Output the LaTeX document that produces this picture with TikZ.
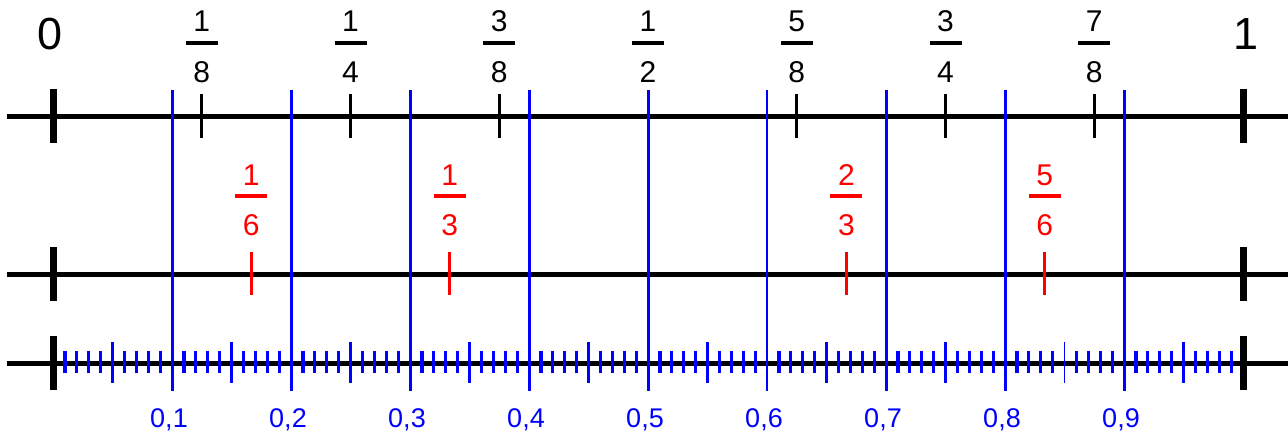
\documentclass[tikz,border=0pt]{standalone}
\usepackage{fontspec}
\setmainfont{Liberation Sans}
\definecolor{pblue}{RGB}{0,0,255}
\definecolor{pred}{RGB}{255,0,0}
\newcommand\fracmark[6]{%
  \node[fracnum,text=#4] (#6n) at (#1,#5) {#2};
  \draw[fracbar,draw=#4] (#1-16,#5+11) -- (#1+16,#5+11);
  \node[fracnum,text=#4] (#6d) at (#1,#5+50) {#3};
}
\begin{document}
\begin{tikzpicture}[x=1pt,y=-1pt,
  axis/.style={line width=5pt,black},
  endmark/.style={line width=7pt,black},
  eighthtick/.style={line width=2.8pt,black},
  redtick/.style={line width=3pt,pred},
  decline/.style={line width=3pt,pblue},
  thindec/.style={line width=1.1pt,pblue},
  smalltick/.style={line width=3.2pt,pblue},
  fracnum/.style={anchor=base,inner sep=0pt,font=\fontsize{30}{30}\selectfont},
  fracbar/.style={line width=3.5pt},
  endlabel/.style={anchor=base,inner sep=0pt,font=\fontsize{45}{45}\selectfont},
  declabel/.style={anchor=base,inner sep=0pt,text=pblue,font=\fontsize{27}{27}\selectfont}]
\useasboundingbox (0,0) rectangle (1288,436);
% horizontal axes
\coordinate (aL) at (7,116); \coordinate (aR) at (1288,116);
\coordinate (bL) at (7,274); \coordinate (bR) at (1288,274);
\coordinate (cL) at (7,363); \coordinate (cR) at (1288,363);
\draw[axis] (aL) -- (aR);
\draw[axis] (bL) -- (bR);
\draw[axis] (cL) -- (cR);
% end markers
\foreach \yy in {116,274,363} {
  \draw[endmark] (53.5,\yy-27) -- (53.5,\yy+27);
  \draw[endmark] (1243.5,\yy-27) -- (1243.5,\yy+27);
}
\node[endlabel] (zero) at (50,50) {0};
\node[endlabel] (one) at (1246,50) {1};
% eighths
\foreach \k/\n/\d in {1/1/8,2/1/4,3/3/8,4/1/2,5/5/8,6/3/4,7/7/8} {
  \pgfmathsetmacro\xx{53+1190*\k/8}
  \draw[eighthtick] (\xx,94) -- (\xx,138);
  \fracmark{\xx}{\n}{\d}{black}{32}{e\k}
}
% sixths
\foreach \k/\n/\d in {1/1/6,2/1/3,4/2/3,5/5/6} {
  \pgfmathsetmacro\xx{53+1190*\k/6}
  \draw[redtick] (\xx,252) -- (\xx,295);
  \fracmark{\xx}{\n}{\d}{pred}{185}{s\k}
}
% hundredths
\foreach \t in {0,...,9} {
  \foreach \u in {1,2,3,4,6,7,8,9} {
    \pgfmathsetmacro\xx{53+11.9*(10*\t+\u)}
    \draw[smalltick] (\xx,351) -- (\xx,373);
  }
}
\foreach \h in {5,15,25,35,45,55,65,75,95} {
  \pgfmathsetmacro\xx{53+11.9*\h}
  \draw[smalltick] (\xx,342) -- (\xx,383);
}
\draw[thindec] (53+11.9*85,342) -- (53+11.9*85,383);
% tenths
\foreach \d in {1,...,9} {
  \pgfmathsetmacro\xx{53+119*\d}
  \ifnum\d=6
    \draw[thindec] (\xx,90) -- (\xx,391);
  \else
    \draw[decline] (\xx,90) -- (\xx,391);
  \fi
  \node[declabel] (t\d) at (\xx-3,427) {0,\d};
}
\end{tikzpicture}
\end{document}
